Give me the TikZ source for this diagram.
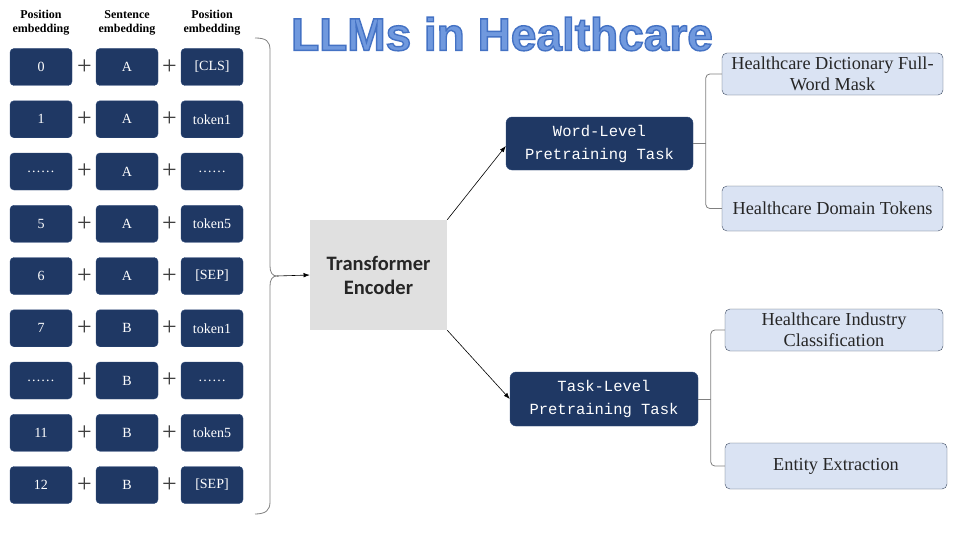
\documentclass[tikz,border=0pt]{standalone}
\usepackage{fontspec}
\setmainfont{Liberation Serif}
\setmonofont{Liberation Mono}
\newfontfamily\titlefont{Liberation Sans}
\newfontfamily\encfont{Carlito}
\usetikzlibrary{positioning,arrows.meta}

\definecolor{navy}{HTML}{1F3864}
\definecolor{navyline}{HTML}{2E4A7A}
\definecolor{paleblue}{HTML}{DAE3F3}
\definecolor{slate}{HTML}{3E4C63}
\definecolor{encgray}{HTML}{E0E0E0}
\definecolor{titleblue}{HTML}{7099DE}
\definecolor{forkgray}{HTML}{808080}

% outlined title text (fill + stroke)
\newcommand{\outlined}[1]{\special{pdf:code q}\textcolor{titleblue}{%
    \special{pdf:code 2 Tr 1.4 w 0.267 0.447 0.769 RG}#1}\special{pdf:code Q}}

\begin{document}
\begin{tikzpicture}[
            x=1pt, y=-1pt,
            emb/.style={
                fill=navy,
                draw=navyline,
                rounded corners=4pt,
                minimum width=62pt,
                minimum height=37pt,
                inner sep=0pt,
                text=white,
                font=\fontsize{14}{14}\selectfont
            },
            head/.style={
                align=center,
                font=\bfseries\fontsize{12}{14}\selectfont
            },
            plus/.style={font=\fontsize{26}{26}\selectfont, text=black!75, inner sep=0pt},
            task/.style={
                fill=navy,
                draw=navyline,
                rounded corners=6pt,
                align=center,
                text=white,
                inner sep=0pt,
                font=\ttfamily\fontsize{15.5}{23}\selectfont
            },
            leaf/.style={
                fill=paleblue,
                draw=slate,
                rounded corners=5pt,
                align=center,
                inner sep=0pt,
                text=black!85,
                font=\fontsize{18.3}{21}\selectfont
            },
            arrow/.style={-{Latex[length=2.2mm,width=1.6mm]}, semithick},
            fork/.style={draw=forkgray, thick, rounded corners=4pt}
        ]
        \useasboundingbox (0,0) rectangle (980,551);

        % Title
        \node (title) at (502,34) {\titlefont\bfseries\fontsize{46}{46}\selectfont
            \outlined{LLMs in Healthcare}};

        % Column headers
        \node[head] (hpos) at (41,23) {Position\\embedding};
        \node[head] (hsen) at (127,23) {Sentence\\embedding};
        \node[head] (htok) at (212,23) {Position\\embedding};

        % Embedding rows
        \foreach \pos/\sen/\tok [count=\i from 0] in {0/A/{[CLS]}, 1/A/token1, ……/A/……,
                5/A/token5, 6/A/{[SEP]}, 7/B/token1, ……/B/……, 11/B/token5, 12/B/{[SEP]}} {
            \pgfmathsetmacro{\y}{67+52.25*\i}
            \node[emb] (p\i) at (41,\y) {\pos};
            \node[emb] (s\i) at (127,\y) {\sen};
            \node[emb] (t\i) at (212,\y) {\tok};
            \node[plus] (a\i) at (84.5,\y) {+};
            \node[plus] (b\i) at (169.5,\y) {+};
        }

        % Encoder and tasks
        \node[fill=encgray, minimum width=137pt, minimum height=110pt, align=center,
              font=\encfont\bfseries\fontsize{20.5}{24}\selectfont, text=black!85]
            (enc) at (378.5,275) {Transformer\\Encoder};

        \node[task, minimum width=187pt, minimum height=53pt] (word) at (599.5,143.5)
            {Word-Level\\Pretraining Task};
        \node[task, minimum width=188pt, minimum height=54pt] (tsk) at (604,399)
            {Task-Level\\Pretraining Task};

        \node[leaf, minimum width=221pt, minimum height=42pt] (hdfm) at (832.5,74)
            {Healthcare Dictionary Full-\\Word Mask};
        \node[leaf, minimum width=221pt, minimum height=45pt] (hdt) at (832.5,208.5)
            {Healthcare Domain Tokens};
        \node[leaf, minimum width=218pt, minimum height=42pt] (hii) at (834,330)
            {Healthcare Industry\\Classification};
        \node[leaf, minimum width=222pt, minimum height=46pt] (ee) at (836,466)
            {Entity Extraction};

        % Brace gathering the rows
        \coordinate (tip) at (277,276);
        \draw[forkgray, thick] (255,38) .. controls (266,38) and (270,41) .. (270,50)
            -- (270,266) .. controls (270,272) and (272,276) .. (tip)
            .. controls (272,276) and (270,280) .. (270,286)
            -- (270,502) .. controls (270,510) and (266,514) .. (255,514);
        \draw[arrow] (tip) -- (enc.west);

        % Encoder to tasks
        \draw[arrow] (enc.north east) -- (word.west |- 0,146);
        \draw[arrow] (enc.south east) -- (tsk.west);

        % Forks to the leaves
        \draw[fork] (hdfm.west) -- ++(-16,0) |- (hdt.west);
        \draw[fork] (word.east) -- ++(13,0);
        \draw[fork] (hii.west) -- ++(-14,0) |- (ee.west);
        \draw[fork] (tsk.east) -- ++(13,0);

        \end{tikzpicture}
\end{document}
